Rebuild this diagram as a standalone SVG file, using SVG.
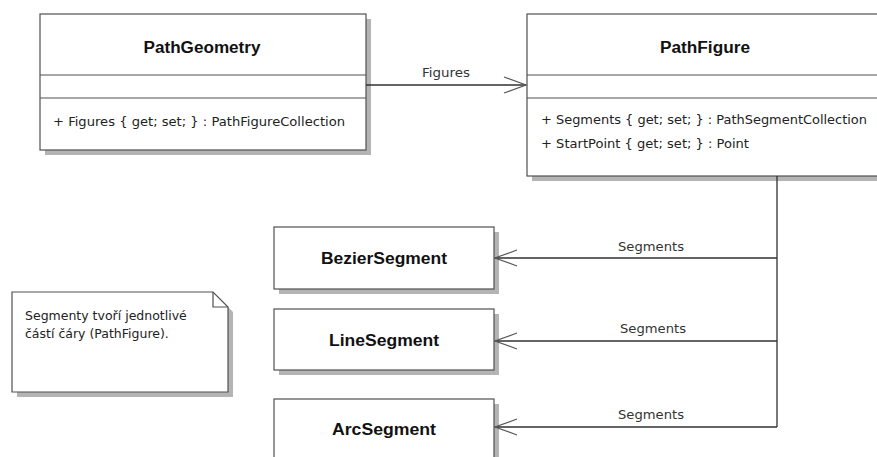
<svg xmlns="http://www.w3.org/2000/svg" width="877" height="457" viewBox="0 0 877 457">
  <defs>
    <style>
      .box { fill: #ffffff; stroke: #505050; stroke-width: 1.2; }
      .shadow { fill: #b4b4b4; }
      .sep { stroke: #505050; stroke-width: 1.2; fill: none; }
      .title { font-family: "Liberation Sans", Arial, sans-serif; font-weight: bold; font-size: 16px; fill: #111111; text-anchor: middle; }
      .attr { font-family: "DejaVu Sans", "Liberation Sans", sans-serif; font-size: 12.5px; fill: #222222; }
      .lbl { font-family: "DejaVu Sans", "Liberation Sans", sans-serif; font-size: 12.5px; fill: #333333; text-anchor: middle; }
      .conn { stroke: #303030; stroke-width: 1.3; fill: none; }
      .head { stroke: #555555; stroke-width: 1.2; fill: none; }
    </style>
  </defs>
  <rect width="877" height="457" fill="#ffffff"/>

  <!-- PathGeometry class -->
  <g id="PathGeometry">
    <rect class="shadow" x="45" y="19" width="326" height="136"/>
    <rect class="box" x="40" y="14" width="326" height="136"/>
    <line class="sep" x1="40" y1="75" x2="366" y2="75"/>
    <line class="sep" x1="40" y1="98" x2="366" y2="98"/>
    <text class="title" x="202" y="52.5" textLength="117" lengthAdjust="spacingAndGlyphs">PathGeometry</text>
    <text class="attr" x="53" y="126" textLength="292" lengthAdjust="spacingAndGlyphs">+ Figures { get; set; } : PathFigureCollection</text>
  </g>

  <!-- PathFigure class -->
  <g id="PathFigure">
    <rect class="shadow" x="532" y="19" width="356" height="162"/>
    <rect class="box" x="527" y="14" width="356" height="162"/>
    <line class="sep" x1="527" y1="75" x2="883" y2="75"/>
    <line class="sep" x1="527" y1="98" x2="883" y2="98"/>
    <text class="title" x="705" y="52.5" textLength="90" lengthAdjust="spacingAndGlyphs">PathFigure</text>
    <text class="attr" x="541" y="124" textLength="326" lengthAdjust="spacingAndGlyphs">+ Segments { get; set; } : PathSegmentCollection</text>
    <text class="attr" x="541" y="148" textLength="208" lengthAdjust="spacingAndGlyphs">+ StartPoint { get; set; } : Point</text>
  </g>

  <!-- Segment classes -->
  <g id="BezierSegment">
    <rect class="shadow" x="279" y="232" width="220" height="62"/>
    <rect class="box" x="274" y="227" width="220" height="62"/>
    <text class="title" x="384" y="264" textLength="126" lengthAdjust="spacingAndGlyphs">BezierSegment</text>
  </g>
  <g id="LineSegment">
    <rect class="shadow" x="279" y="314" width="220" height="61"/>
    <rect class="box" x="274" y="309" width="220" height="61"/>
    <text class="title" x="384" y="346" textLength="110" lengthAdjust="spacingAndGlyphs">LineSegment</text>
  </g>
  <g id="ArcSegment">
    <rect class="shadow" x="279" y="404" width="220" height="70"/>
    <rect class="box" x="274" y="399" width="220" height="70"/>
    <text class="title" x="384" y="435" textLength="104" lengthAdjust="spacingAndGlyphs">ArcSegment</text>
  </g>

  <!-- Comment note -->
  <g id="Note">
    <path class="shadow" d="M17 297 H218 L233 312 V397 H17 Z"/>
    <path class="box" d="M12 292 H213 L228 307 V392 H12 Z"/>
    <path class="sep" d="M213 292 V307 H228"/>
    <text class="attr" x="25" y="320" font-size="13">Segmenty tvoří jednotlivé</text>
    <text class="attr" x="25" y="338" font-size="13">částí čáry (PathFigure).</text>
  </g>

  <!-- Associations -->
  <g id="connectors">
    <line class="conn" x1="366" y1="85" x2="526" y2="85"/>
    <path class="head" d="M504 77 L526 85 L504 93"/>
    <text class="lbl" x="446" y="77" textLength="48" lengthAdjust="spacingAndGlyphs">Figures</text>

    <line class="conn" x1="777" y1="176" x2="777" y2="427"/>

    <line class="conn" x1="777" y1="258" x2="495" y2="258"/>
    <path class="head" d="M517 250 L495 258 L517 266"/>
    <text class="lbl" x="651" y="251" textLength="66" lengthAdjust="spacingAndGlyphs">Segments</text>

    <line class="conn" x1="777" y1="341" x2="495" y2="341"/>
    <path class="head" d="M517 333 L495 341 L517 349"/>
    <text class="lbl" x="653" y="333" textLength="66" lengthAdjust="spacingAndGlyphs">Segments</text>

    <line class="conn" x1="777" y1="427" x2="495" y2="427"/>
    <path class="head" d="M517 419 L495 427 L517 435"/>
    <text class="lbl" x="651" y="419" textLength="66" lengthAdjust="spacingAndGlyphs">Segments</text>
  </g>
</svg>
